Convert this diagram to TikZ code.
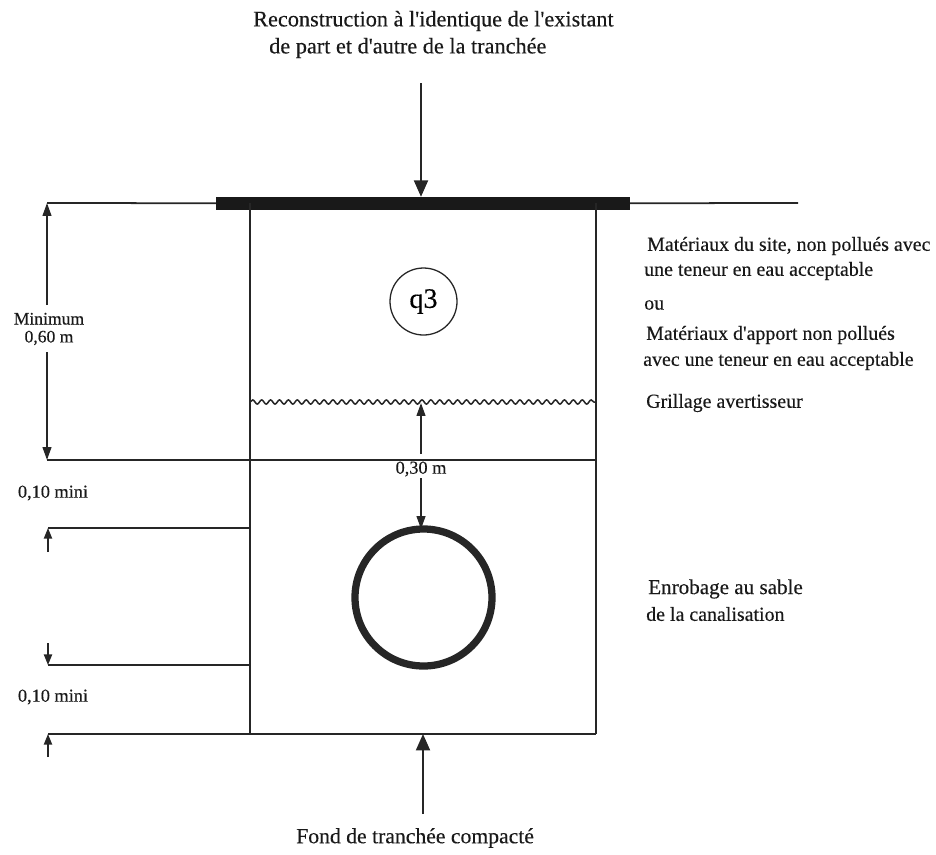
\documentclass[tikz,border=0pt]{standalone}
\usepackage{fontspec}
\setmainfont[FakeBold=0.3]{Liberation Serif}
\usetikzlibrary{arrows.meta,decorations.pathmorphing}
\tikzset{
  trait/.style={line width=1.5pt,black!85},
  fleche/.style={line width=1.5pt,black!85,-{Triangle[length=14pt,width=12pt]}},
  moyenne/.style={line width=1.4pt,black!85,-{Triangle[length=11pt,width=7.5pt]}},
  petite/.style={line width=1.1pt,black!85,-{Triangle[length=9pt,width=7pt]}},
  texte/.style={anchor=west,inner sep=0pt,font=\fontsize{17}{20}\selectfont,text=black!90},
  titre/.style={texte,font=\fontsize{19}{22}\selectfont},
  cote/.style={inner sep=0pt,font=\fontsize{15.6}{15.4}\selectfont,text=black!90},
}
\begin{document}
\begin{tikzpicture}[x=0.03cm,y=-0.03cm]
\useasboundingbox (0,0) rectangle (936,854);
% reperes de la tranchee
\coordinate (hautG) at (250,203) ;
\coordinate (hautD) at (596,203) ;
\coordinate (basG) at (250,734) ;
\coordinate (basD) at (596,734) ;
\coordinate (sableG) at (250,460) ;
\coordinate (sableD) at (596,460) ;
\coordinate (dimH) at (47,203) ;
\coordinate (dimM) at (47,460) ;
\coordinate (dimA) at (48,528) ;
\coordinate (dimB) at (48,665) ;
\coordinate (dimC) at (48,734) ;
\coordinate (finD) at (798,203) ;
\coordinate (enrobA) at (250,528) ;
\coordinate (enrobB) at (250,665) ;
\coordinate (grilG) at (250,402) ;
\coordinate (grilD) at (596,402) ;
\coordinate (grilM) at (421,403) ;
% chaussee
\node (chaussee) [fill=black!90,minimum width=414*0.03cm,minimum height=13*0.03cm,inner sep=0pt] at (423,203.5) {} ;
% tranchee
\draw[trait] (dimH) -- (chaussee) ;
\draw[trait] (chaussee) -- (finD) ;
\draw[trait] (hautG) -- (basG) ;
\draw[trait] (hautD) -- (basD) ;
\draw[trait] (dimM) -- (sableD) ;
\draw[trait] (dimA) -- (enrobA) ;
\draw[trait] (dimB) -- (enrobB) ;
\draw[trait] (dimC) -- (basD) ;
\draw[line width=1.3pt,black!85,decorate,decoration={snake,amplitude=1.8pt,segment length=7.6pt}] (grilG) -- (grilD) ;
% canalisation et repere
\node (tuyau) [circle,draw=black!85,line width=6.2pt,minimum size=137*0.03cm,inner sep=0pt,outer sep=0pt] at (423.5,597.5) {} ;
\node (q3) [circle,draw=black!85,line width=1.1pt,minimum size=67*0.03cm,inner sep=0pt,font=\fontsize{24}{28}\selectfont] at (423.5,301.5) {q3} ;
% textes
\node (titreA) [titre] at (253,21) {Reconstruction à l\textquotesingle identique de l\textquotesingle existant} ;
\node (titreB) [titre] at (269,48) {de part et d\textquotesingle autre de la tranchée} ;
\node (siteA) [texte] at (647,246) {Matériaux du site, non pollués avec} ;
\node (siteB) [texte] at (644,271) {une teneur en eau acceptable} ;
\node (ou) [texte] at (644,305) {ou} ;
\node (apportA) [texte] at (646,335) {Matériaux d\textquotesingle apport non pollués} ;
\node (apportB) [texte] at (643,361) {avec une teneur en eau acceptable} ;
\node (grillage) [texte] at (646,403) {Grillage avertisseur} ;
\node (enrobC) [texte,font=\fontsize{18}{21}\selectfont] at (648,589) {Enrobage au sable} ;
\node (enrobE) [texte] at (646,614) {de la canalisation} ;
\node (fond) [titre,font=\fontsize{18.5}{21}\selectfont] at (296,838) {Fond de tranchée compacté} ;
\node (miniA) [cote] at (53,493) {0,10 mini} ;
\node (miniB) [cote] at (53,697) {0,10 mini} ;
\node (minimum) [cote,align=center,font=\fontsize{15}{15.3}\selectfont] at (49,329) {Minimum\\0,60 m} ;
\node (trente) [cote] at (421,469) {0,30 m} ;
% fleches
\coordinate (haut) at (421,83) ;
\coordinate (bas) at (423,814) ;
\coordinate (dimAb) at (48,552) ;
\coordinate (dimBb) at (48,643) ;
\coordinate (dimCb) at (48,757) ;
\coordinate (fondT) at (423,734) ;
\coordinate (minH) at (47,305) ;
\coordinate (minB) at (47,352) ;
\coordinate (trenteH) at (421,454) ;
\coordinate (trenteB) at (421,478) ;
\draw[fleche] (haut) -- (haut |- chaussee.north) ;
\draw[fleche] (bas) -- (fondT) ;
\draw[moyenne] (minH) -- (dimH) ;
\draw[moyenne] (minB) -- (dimM) ;
\draw[moyenne] (trenteH) -- (grilM) ;
\draw[moyenne] (trenteB) -- (tuyau.north -| grilM) ;
\draw[petite] (dimAb) -- (dimA) ;
\draw[petite] (dimBb) -- (dimB) ;
\draw[petite] (dimCb) -- (dimC) ;
\end{tikzpicture}
\end{document}
